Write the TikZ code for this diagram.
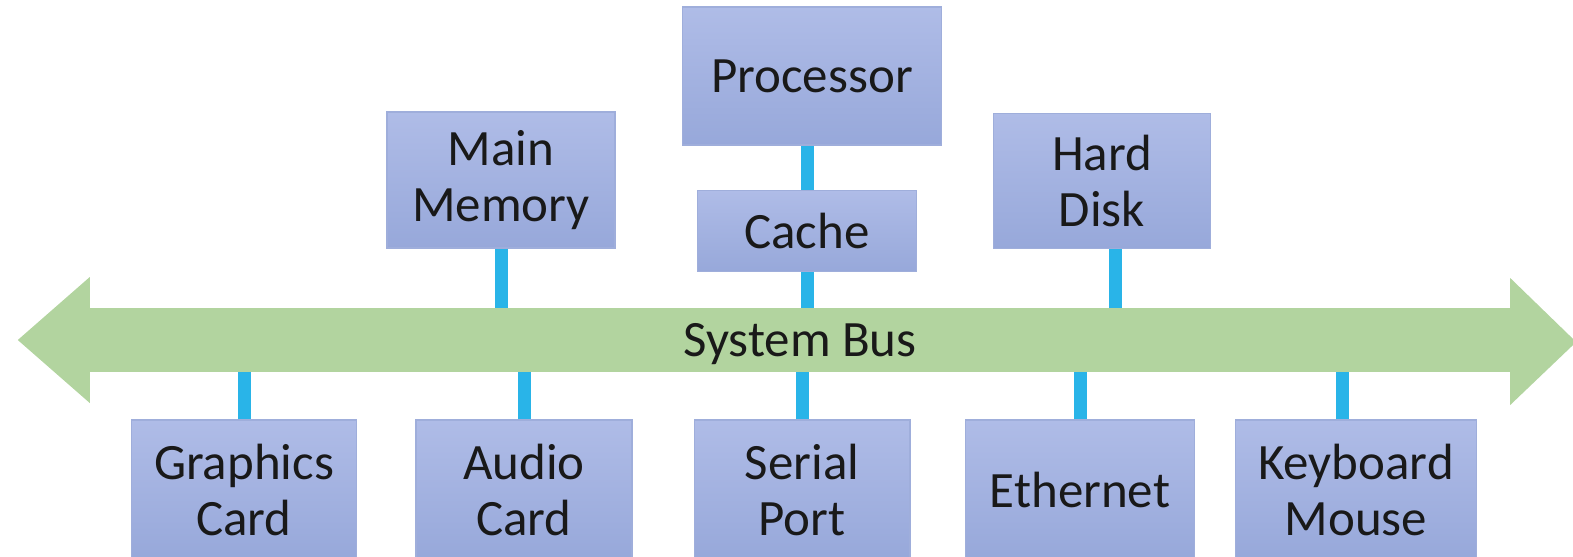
\documentclass[tikz,border=0pt]{standalone}
\usepackage{fontspec}
\setmainfont{Carlito}
\definecolor{boxtop}{HTML}{AFBCE7}
\definecolor{boxbot}{HTML}{97A8DA}
\definecolor{boxedge}{HTML}{9FAEDB}
\definecolor{busgreen}{HTML}{B2D49F}
\definecolor{linkblue}{HTML}{29B4E8}

\begin{document}
\begin{tikzpicture}[x=0.02cm, y=-0.02cm,
    box/.style={draw=boxedge, line width=0.6pt, top color=boxtop, bottom color=boxbot,
      inner sep=0pt, align=center, text=black!90, font=\fontsize{29}{32}\selectfont},
    link/.style={draw=linkblue, line width=0.26cm}]
  \useasboundingbox (0,0) rectangle (1573,556);
  % the bus
  \node[fill=busgreen, inner sep=0pt, minimum width=28.4cm, minimum height=1.28cm,
    text depth=0pt, text=black!90, font=\fontsize{29}{32}\selectfont] (bus) at (800,340) {System Bus};
  \fill[busgreen] (bus.west) ++(0,-63) -- ++(-72,63) -- ++(72,63) -- cycle;
  \fill[busgreen] (bus.east) ++(0,-62) -- ++(66,64) -- ++(-66,63) -- cycle;
  % upper row
  \node[box, minimum width=5.18cm, minimum height=2.76cm] (cpu) at (812,76) {Processor};
  \node[box, minimum width=4.38cm, minimum height=1.62cm] (cache) at (807,231) {Cache};
  \node[box, minimum width=4.56cm, minimum height=2.72cm] (mem) at (501,180) {Main\\Memory};
  \node[box, minimum width=4.34cm, minimum height=2.70cm] (disk) at (1102,181) {Hard\\Disk};
  % lower row
  \node[box, minimum width=4.50cm, minimum height=2.8cm] (gfx) at (244,490) {Graphics\\Card};
  \node[box, minimum width=4.32cm, minimum height=2.8cm] (audio) at (524,490) {Audio\\Card};
  \node[box, minimum width=4.32cm, minimum height=2.8cm] (serial) at (802,490) {Serial\\Port};
  \node[box, minimum width=4.58cm, minimum height=2.8cm] (eth) at (1080,490) {Ethernet};
  \node[box, minimum width=4.82cm, minimum height=2.8cm] (kbd) at (1356,490) {Keyboard\\Mouse};
  % links to the bus
  \coordinate (diskx) at ([xshift=0.26cm]disk.south);
  \coordinate (kbdx) at ([xshift=-0.27cm]kbd.north);
  \draw[link] (cache.north) -- (cache.north |- cpu.south);
  \draw[link] (cache.south) -- (cache.south |- bus.north);
  \draw[link] (mem.south) -- (mem.south |- bus.north);
  \draw[link] (diskx) -- (diskx |- bus.north);
  \foreach \n in {gfx,audio,serial,eth}
    \draw[link] (\n.north) -- (\n.north |- bus.south);
  \draw[link] (kbdx) -- (kbdx |- bus.south);
\end{tikzpicture}
\end{document}
